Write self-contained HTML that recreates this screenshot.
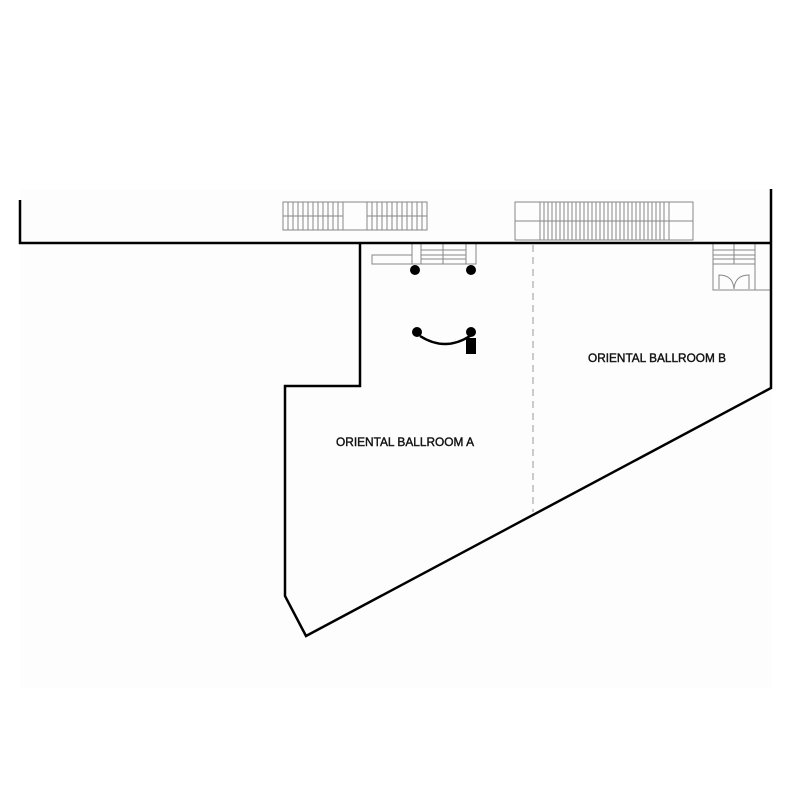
<!DOCTYPE html>
<html><head><style>html,body{margin:0;padding:0;background:#fff}</style></head>
<body>
<svg width="800" height="800" viewBox="0 0 800 800" xmlns="http://www.w3.org/2000/svg">
<rect x="0" y="0" width="800" height="800" fill="#fff"/>
<rect x="20" y="190" width="752" height="498" fill="#fdfdfd"/>
<g fill="none" stroke="#888" stroke-width="1">
  <rect x="283" y="202" width="144" height="28"/>
  <line x1="283" y1="216" x2="343" y2="216"/>
  <line x1="367" y1="216" x2="427" y2="216"/>
  <line x1="343" y1="202" x2="343" y2="230"/>
  <line x1="367" y1="202" x2="367" y2="230"/>
  <path d="M288 202v28M293 202v28M298 202v28M303 202v28M308 202v28M313 202v28M318 202v28M323 202v28M328 202v28M333 202v28M338 202v28"/>
  <path d="M372 202v28M377 202v28M382 202v28M387 202v28M392 202v28M397 202v28M402 202v28M407 202v28M412 202v28M417 202v28M422 202v28"/>
  <rect x="515" y="202" width="178" height="38"/>
  <line x1="515" y1="221" x2="693" y2="221"/>
  <line x1="540" y1="202" x2="540" y2="240"/>
  <line x1="669" y1="202" x2="669" y2="240"/>
  <path d="M544 202v38M548 202v38M552 202v38M556 202v38M560 202v38M564 202v38M568 202v38M572 202v38M576 202v38M580 202v38M584 202v38M588 202v38M592 202v38M596 202v38M600 202v38M604 202v38M608 202v38M612 202v38M616 202v38M620 202v38M624 202v38M628 202v38M632 202v38M636 202v38M640 202v38M644 202v38M648 202v38M652 202v38M656 202v38M660 202v38M664 202v38"/>
  <rect x="412" y="243" width="9" height="21"/>
  <rect x="466" y="243" width="10" height="21"/>
  <rect x="372" y="255" width="40" height="9"/>
  <path d="M421 250h45M421 255h45M421 259h45M421 264h45M443 243v21"/>
  <path d="M713 243v47h57M755 243v47M713 250h42M713 255h42M713 259h42M713 264h42M734 243v21"/>
  <path d="M719 289v-14q14 0 15 14M749 289v-14q-14 0 -15 14"/>
</g>
<line x1="533" y1="245" x2="533" y2="512" stroke="#999" stroke-width="1" stroke-dasharray="7,5"/>
<g fill="none" stroke="#000" stroke-width="2.5">
  <path d="M20 200V243H771"/>
  <path d="M771 189V388L306 636L285 596V386H360V243"/>
  <path d="M420 336Q445 352 470 336"/>
</g>
<g fill="#000">
  <circle cx="415" cy="270" r="5"/>
  <circle cx="471" cy="270" r="5"/>
  <circle cx="417" cy="332" r="5"/>
  <circle cx="471" cy="332" r="5"/>
  <rect x="466" y="338" width="10" height="16"/>
</g>
<g font-family="Liberation Sans, sans-serif" font-size="12" fill="#111" stroke="#111" stroke-width="0.4">
  <text x="336" y="446" textLength="138" lengthAdjust="spacingAndGlyphs">ORIENTAL BALLROOM A</text>
  <text x="588" y="362" textLength="138" lengthAdjust="spacingAndGlyphs">ORIENTAL BALLROOM B</text>
</g>
</svg>
</body></html>
